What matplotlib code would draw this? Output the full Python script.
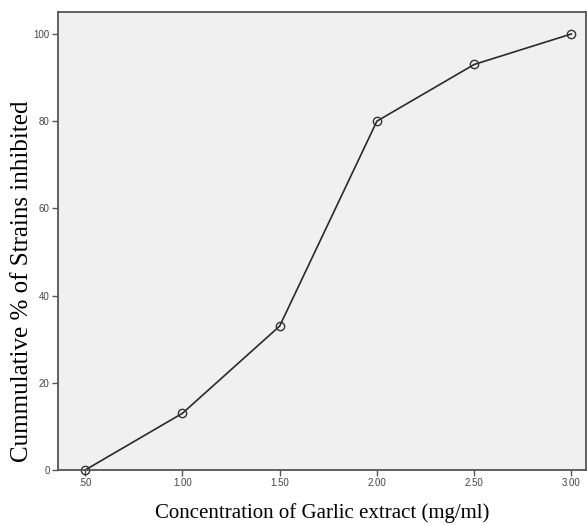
import matplotlib
matplotlib.use('Agg')
import matplotlib.pyplot as plt

# Data
concentration = [0.5, 1.0, 1.5, 2.0, 2.5, 3.0]
cum_inhibited = [0, 13, 33, 80, 93, 100]
x_ticks = [0.5, 1.0, 1.5, 2.0, 2.5, 3.0]
x_tick_labels = ['.50', '1.00', '1.50', '2.00', '2.50', '3.00']
y_ticks = [0, 20, 40, 60, 80, 100]

fig = plt.figure(figsize=(5.87, 5.25), dpi=100)
ax = fig.add_axes([0.0988, 0.1048, 0.9, 0.872])
ax.set_facecolor('#f0f0f0')

ax.plot(concentration, cum_inhibited, color='#2a2a2a', linewidth=1.2,
        marker='o', markersize=6, markerfacecolor='none',
        markeredgecolor='#333333', markeredgewidth=1.0, clip_on=False)

ax.set_xlim(0.36, 3.077)
ax.set_ylim(0, 105)
ax.set_xticks(x_ticks)
ax.set_xticklabels(x_tick_labels)
ax.set_yticks(y_ticks)

for s in ax.spines.values():
    s.set_color('#555555')
    s.set_linewidth(1.3)

ax.tick_params(direction='out', length=4, width=1, color='#555555',
               labelsize=7, labelcolor='#444444', pad=2)
for lab in ax.get_xticklabels() + ax.get_yticklabels():
    lab.set_family('Liberation Sans')

ax.set_xlabel('Concentration of Garlic extract (mg/ml)',
              family='Liberation Serif', fontsize=15, labelpad=11)
ax.set_ylabel('Cummulative % of Strains inhibited',
              family='Liberation Serif', fontsize=18)
# label in the reference sits lower than the axes centre
ax.yaxis.set_label_coords(-0.047, 0.413)

fig.savefig('out.png', dpi=100, facecolor='white')
